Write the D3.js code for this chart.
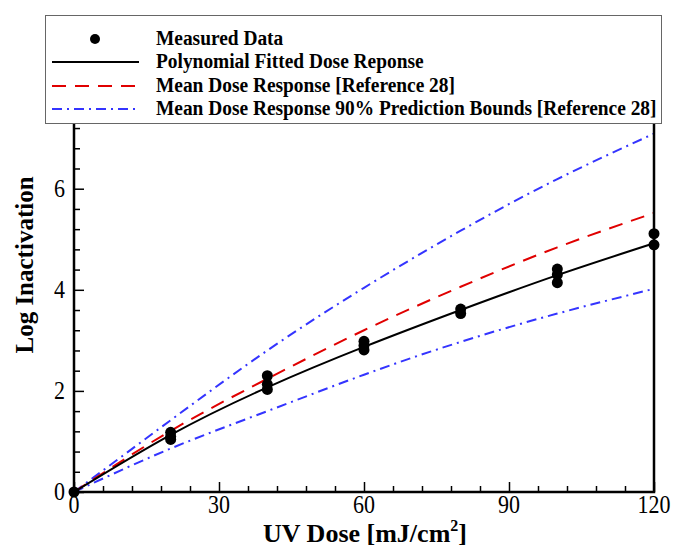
<!doctype html>
<html>
  <head>
    <script src="https://cdn.jsdelivr.net/npm/d3@7"></script>
    <style>
      body { margin: 0; background: #fff; }
      text { font-family: "Liberation Serif", "Times New Roman", serif; }
    </style>
  </head>
  <body>
    <div id="chart"></div>
    <script>
      // measured points (dose, log inactivation)
      var measuredDose = [0, 20, 20, 20, 40, 40, 40, 60, 60, 60, 80, 80, 100, 100, 100, 120, 120];
      var measuredLog  = [0, 1.18, 1.10, 1.04, 2.30, 2.13, 2.03, 2.98, 2.90, 2.81, 3.62, 3.53, 4.41, 4.30, 4.14, 5.11, 4.89];

      // curves
      var curveDose = [0, 20, 40, 60, 80, 100, 120];
      var fitted    = [0, 1.13, 2.07, 2.87, 3.60, 4.29, 4.92];
      var meanRef   = [0, 1.21, 2.24, 3.20, 4.06, 4.84, 5.52];
      var upperRef  = [0, 1.42, 2.80, 4.04, 5.17, 6.19, 7.09];
      var lowerRef  = [0, 0.86, 1.60, 2.32, 2.97, 3.53, 4.02];

      var xTicks = [0, 30, 60, 90, 120];
      var yTicks = [0, 2, 4, 6];

      var legendLabels = [
        "Measured Data",
        "Polynomial Fitted Dose Reponse",
        "Mean Dose Response [Reference 28]",
        "Mean Dose Response 90% Prediction Bounds [Reference 28]"
      ];

      var W = 673, H = 549;
      var margin = {top: 123, right: 19, bottom: 57, left: 74};
      var width = W - margin.left - margin.right,
          height = H - margin.top - margin.bottom;

      var svg = d3.select("#chart").append("svg")
        .attr("width", W).attr("height", H);
      var g = svg.append("g")
        .attr("transform", "translate(" + margin.left + "," + margin.top + ")");

      var x = d3.scaleLinear().domain([0, 120]).range([0, width]);
      var y = d3.scaleLinear().domain([0, 7.3]).range([height, 0]);

      // curves
      var line = d3.line()
        .x(function(d) { return x(d[0]); })
        .y(function(d) { return y(d[1]); })
        .curve(d3.curveNatural);

      function pts(vals) { return curveDose.map(function(d, i) { return [d, vals[i]]; }); }

      var series = [
        {vals: upperRef, color: "#3434ff", dash: "10,5,2,5"},
        {vals: lowerRef, color: "#3434ff", dash: "10,5,2,5"},
        {vals: meanRef,  color: "#e00000", dash: "14,9"},
        {vals: fitted,   color: "#000", dash: null}
      ];
      series.forEach(function(s) {
        g.append("path")
          .attr("d", line(pts(s.vals)))
          .attr("fill", "none")
          .attr("stroke", s.color)
          .attr("stroke-width", 2)
          .attr("stroke-dasharray", s.dash);
      });

      // points
      g.selectAll("circle.pt")
        .data(measuredDose.map(function(d, i) { return [d, measuredLog[i]]; }))
        .enter().append("circle")
        .attr("class", "pt")
        .attr("cx", function(d) { return x(d[0]); })
        .attr("cy", function(d) { return y(d[1]); })
        .attr("r", 5.5)
        .attr("fill", "#000");

      // axes with inward ticks
      var xMinor = d3.range(0, 121, 6).filter(function(v) { return v % 30 !== 0; });
      var yMinor = d3.range(0, 7.3, 0.4).filter(function(v) { return Math.abs(v / 2 - Math.round(v / 2)) > 0.01; });

      g.append("g").attr("transform", "translate(0," + height + ")")
        .call(d3.axisTop(x).tickValues(xTicks).tickSize(10).tickFormat(""));
      g.append("g").attr("transform", "translate(0," + height + ")")
        .call(d3.axisTop(x).tickValues(xMinor).tickSize(6).tickFormat(""));
      g.append("g")
        .call(d3.axisRight(y).tickValues(yTicks).tickSize(10).tickFormat(""));
      g.append("g")
        .call(d3.axisRight(y).tickValues(yMinor).tickSize(6).tickFormat(""));
      g.selectAll(".domain").remove();
      g.selectAll(".tick line").attr("stroke", "#000").attr("stroke-width", 1.5);

      // tick labels (the original's text is a bit taller than wide)
      g.selectAll("text.xl").data(xTicks).enter().append("text")
        .attr("transform", function(d) { return "translate(" + x(d) + "," + (height + 21) + ") scale(1,1.12)"; })
        .attr("text-anchor", "middle")
        .style("font-size", "22px")
        .text(function(d) { return d; });
      g.selectAll("text.yl").data(yTicks).enter().append("text")
        .attr("transform", function(d) { return "translate(-9," + (y(d) + 8) + ") scale(1,1.12)"; })
        .attr("text-anchor", "end")
        .style("font-size", "22px")
        .text(function(d) { return d; });

      // frame: left, bottom, right
      g.append("path")
        .attr("d", "M0,0V" + height + "H" + width + "V0")
        .attr("fill", "none").attr("stroke", "#000").attr("stroke-width", 2.5);

      // axis titles
      var xt = svg.append("text")
        .attr("x", margin.left + width / 2 + 1)
        .attr("y", 542)
        .attr("text-anchor", "middle")
        .style("font-size", "26px").style("font-weight", "bold");
      xt.append("tspan").text("UV Dose [mJ/cm");
      xt.append("tspan").attr("dy", -11).style("font-size", "16px").text("2");
      xt.append("tspan").attr("dy", 11).text("]");

      svg.append("text")
        .attr("transform", "translate(33,265) rotate(-90)")
        .attr("text-anchor", "middle")
        .style("font-size", "25px").style("font-weight", "bold")
        .text("Log Inactivation");

      // legend
      var lg = svg.append("g");
      lg.append("rect")
        .attr("x", 45.5).attr("y", 15.5).attr("width", 616).attr("height", 108)
        .attr("fill", "#fff").attr("stroke", "#666").attr("stroke-width", 1);
      var rowY = [39, 62, 86, 109];
      lg.append("circle").attr("cx", 95).attr("cy", rowY[0]).attr("r", 5).attr("fill", "#000");
      [1, 2, 3].forEach(function(i) {
        var s = series[[0, 3, 2, 0][i]];
        lg.append("line")
          .attr("x1", 52).attr("x2", 139).attr("y1", rowY[i]).attr("y2", rowY[i])
          .attr("stroke", s.color).attr("stroke-width", 2)
          .attr("stroke-dasharray", s.dash);
      });
      lg.selectAll("text.lt").data(legendLabels).enter().append("text")
        .attr("transform", function(d, i) { return "translate(156," + (rowY[i] + 6) + ") scale(1,1.1)"; })
        .style("font-size", "19.4px").style("font-weight", "bold")
        .text(function(d) { return d; });
    </script>
  </body>
</html>
